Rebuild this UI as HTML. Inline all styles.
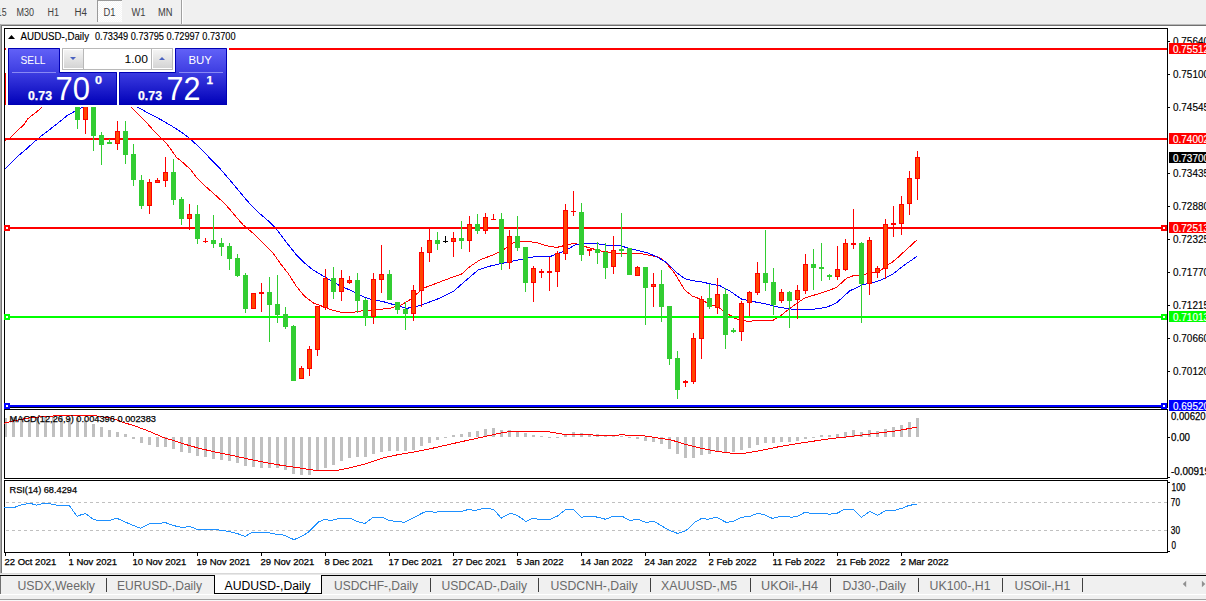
<!DOCTYPE html>
<html><head><meta charset="utf-8"><style>
html,body{margin:0;padding:0;width:1206px;height:601px;overflow:hidden;background:#fff;font-family:"Liberation Sans", sans-serif;}
svg{display:block;}
</style></head><body>
<svg width="1206" height="601" viewBox="0 0 1206 601" font-family='"Liberation Sans", sans-serif'><rect x="0" y="0" width="1206" height="601" fill="#ffffff"/>
<rect x="0" y="0" width="1206" height="24" fill="#f0f0f0"/>
<rect x="0" y="24" width="1206" height="1" fill="#b9b9b9"/>
<rect x="0" y="25" width="1206" height="1" fill="#707070"/>
<defs><pattern id="chk" width="2" height="2" patternUnits="userSpaceOnUse"><rect width="2" height="2" fill="#f6f6f6"/><rect width="1" height="1" fill="#ffffff"/><rect x="1" y="1" width="1" height="1" fill="#ffffff"/></pattern><linearGradient id="gsellT" x1="0" y1="0" x2="0" y2="1"><stop offset="0" stop-color="#5a5af5"/><stop offset="1" stop-color="#3a3ae0"/></linearGradient><linearGradient id="gsellB" x1="0" y1="0" x2="0" y2="1"><stop offset="0" stop-color="#3535dc"/><stop offset="1" stop-color="#0000b4"/></linearGradient><linearGradient id="gbtn" x1="0" y1="0" x2="0" y2="1"><stop offset="0" stop-color="#f4f4f4"/><stop offset="1" stop-color="#d4d4d4"/></linearGradient></defs>
<rect x="97" y="0" width="25" height="22" fill="url(#chk)"/>
<rect x="97" y="0" width="25" height="1" fill="#9a9a9a"/>
<rect x="97" y="0" width="1" height="22" fill="#9a9a9a"/>
<rect x="181" y="0" width="1" height="24" fill="#a0a0a0"/>
<rect x="182" y="0" width="1" height="24" fill="#ffffff"/>
<text x="-10.5" y="16" font-size="10" fill="#404040" textLength="17" lengthAdjust="spacingAndGlyphs" >M15</text>
<text x="16.5" y="16" font-size="10" fill="#404040" textLength="17.5" lengthAdjust="spacingAndGlyphs" >M30</text>
<text x="47.5" y="16" font-size="10" fill="#404040" textLength="11.5" lengthAdjust="spacingAndGlyphs" >H1</text>
<text x="74.5" y="16" font-size="10" fill="#404040" textLength="12.5" lengthAdjust="spacingAndGlyphs" >H4</text>
<text x="103.5" y="16" font-size="10" fill="#404040" textLength="12" lengthAdjust="spacingAndGlyphs" >D1</text>
<text x="131.5" y="16" font-size="10" fill="#404040" textLength="14" lengthAdjust="spacingAndGlyphs" >W1</text>
<text x="158" y="16" font-size="10" fill="#404040" textLength="14.5" lengthAdjust="spacingAndGlyphs" >MN</text>
<rect x="0" y="24" width="1" height="550" fill="#a8a8a8"/>
<rect x="1" y="25" width="1" height="549" fill="#747474"/>
<rect x="4" y="28" width="1164" height="1" fill="#000"/>
<rect x="4" y="407" width="1164" height="1" fill="#000"/>
<rect x="4" y="28" width="1" height="380" fill="#000"/>
<rect x="1167" y="28" width="1" height="380" fill="#000"/>
<rect x="4" y="409" width="1164" height="1" fill="#000"/>
<rect x="4" y="478" width="1164" height="1" fill="#000"/>
<rect x="4" y="409" width="1" height="70" fill="#000"/>
<rect x="1167" y="409" width="1" height="70" fill="#000"/>
<rect x="4" y="480" width="1164" height="1" fill="#000"/>
<rect x="4" y="552" width="1164" height="1" fill="#000"/>
<rect x="4" y="480" width="1" height="73" fill="#000"/>
<rect x="1167" y="480" width="1" height="73" fill="#000"/>
<g clip-path="url(#mainclip)">
<clipPath id="mainclip"><rect x="5" y="29" width="1162" height="378"/></clipPath>
<polyline points="4.0,141.3 10.0,138.0 17.3,130.6 24.0,124.6 28.0,118.6 32.0,115.3 36.6,112.0 42.0,106.9 44.0,104.0" fill="none" stroke="#ff0000" stroke-width="1" stroke-linejoin="round" shape-rendering="crispEdges"/>
<polyline points="131.2,107.0 138.2,114.0 144.9,120.8 152.3,129.1 159.8,136.6 166.5,143.3 176.5,157.4 180.0,160.0 185.0,164.5 191.0,170.0 196.0,177.0 202.0,183.0 209.0,189.5 217.0,196.5 224.0,203.0 230.0,209.5 233.2,213.5 243.1,224.9 253.1,233.2 264.8,244.9 273.1,253.2 281.4,264.9 288.0,273.2 296.6,286.6 304.9,296.6 313.2,302.9 323.2,306.6 331.5,309.9 341.5,312.4 353.1,312.4 363.1,310.7 374.8,309.9 389.7,308.3 401.4,304.9 409.7,299.9 421.3,290.0 423.3,288.2 436.6,283.2 449.9,278.2 461.6,274.0 469.9,266.6 479.9,259.9 493.2,254.9 503.2,249.9 513.3,243.0 525.0,241.3 536.6,242.5 546.6,245.8 556.6,247.5 566.6,245.0 574.9,243.3 586.5,247.0 599.8,250.8 616.5,253.3 629.8,254.1 639.8,253.3 649.8,255.3 659.7,257.5 666.4,263.3 674.7,273.3 684.7,289.9 693.0,296.6 696.0,297.3 699.0,298.7 704.1,301.4 706.8,302.5 712.3,305.4 715.2,305.7 719.3,307.8 722.8,310.7 728.0,314.4 731.0,315.6 735.0,318.5 739.0,319.7 744.3,320.3 746.6,321.2 761.6,320.7 773.2,320.2 781.6,314.9 789.9,308.3 798.2,302.4 804.9,297.9 814.8,294.9 826.5,291.3 836.5,287.5 846.5,278.3 853.1,275.8 864.0,274.4 873.0,272.4 880.0,271.0 888.0,264.4 891.9,262.4 897.9,257.4 916.9,240.0" fill="none" stroke="#ff0000" stroke-width="1" stroke-linejoin="round" shape-rendering="crispEdges"/>
<polyline points="4.0,169.9 17.3,156.6 26.0,149.3 38.0,138.6 50.0,129.3 58.6,122.6 66.6,116.0 74.6,111.3 83.9,106.7 88.0,104.0" fill="none" stroke="#0000ff" stroke-width="1" stroke-linejoin="round" shape-rendering="crispEdges"/>
<polyline points="137.4,107.0 149.9,114.1 159.8,119.1 171.5,125.8 183.1,133.3 191.4,140.0 201.4,149.1 209.8,158.2 219.7,168.2 229.7,179.9 238.2,190.0 246.5,200.0 256.5,210.8 268.1,220.8 276.4,229.1 286.4,242.4 296.4,254.9 304.7,263.2 313.0,269.9 319.9,274.1 329.8,280.0 339.8,285.8 349.8,290.0 363.1,296.6 373.1,299.9 383.1,301.6 394.7,304.9 406.4,308.3 413.0,307.4 421.3,304.9 436.6,299.5 453.2,291.5 466.6,279.9 478.2,269.9 491.5,265.7 503.2,263.2 516.6,260.3 533.3,257.0 549.9,256.6 563.2,251.6 576.5,244.2 593.2,243.3 608.2,245.3 619.8,245.8 633.1,249.2 646.4,252.5 656.4,256.6 666.4,262.5 676.4,272.4 684.7,278.6 693.0,280.8 699.7,281.6 720.0,285.8 728.3,290.0 741.6,299.1 753.3,301.6 766.6,304.1 779.9,307.4 796.5,309.9 808.2,309.9 826.5,307.4 836.5,302.9 849.8,290.8 863.1,284.6 876.4,281.6 882.0,279.7 893.0,273.9 903.9,265.4 916.9,256.4" fill="none" stroke="#0000ff" stroke-width="1" stroke-linejoin="round" shape-rendering="crispEdges"/>
</g>
<g shape-rendering="crispEdges">
<rect x="229" y="48" width="938" height="2" fill="#ff0000"/>
<rect x="5" y="138" width="1162" height="2" fill="#ff0000"/>
<rect x="5" y="227" width="1162" height="2" fill="#ff0000"/>
<rect x="5" y="316" width="1162" height="2" fill="#00ff00"/>
<rect x="5" y="405" width="1162" height="2" fill="#0000ff"/>
<rect x="4" y="225" width="6" height="6" fill="#ff0000"/>
<rect x="6" y="227" width="2" height="2" fill="#ffffff"/>
<rect x="1161" y="225" width="6" height="6" fill="#ff0000"/>
<rect x="1163" y="227" width="2" height="2" fill="#ffffff"/>
<rect x="4" y="314" width="6" height="6" fill="#00ff00"/>
<rect x="6" y="316" width="2" height="2" fill="#ffffff"/>
<rect x="1161" y="314" width="6" height="6" fill="#00ff00"/>
<rect x="1163" y="316" width="2" height="2" fill="#ffffff"/>
<rect x="4" y="403" width="6" height="6" fill="#0000ff"/>
<rect x="6" y="405" width="2" height="2" fill="#ffffff"/>
<rect x="1161" y="403" width="6" height="6" fill="#0000ff"/>
<rect x="1163" y="405" width="2" height="2" fill="#ffffff"/>
<rect x="5" y="48" width="1" height="2" fill="#ff0000"/>
<rect x="5" y="73" width="1" height="32" fill="#ff0000"/>
<rect x="77" y="104" width="1" height="25" fill="#32cd32"/>
<rect x="75" y="104" width="5" height="16" fill="#32cd32"/>
<rect x="76" y="105" width="3" height="14" fill="#32cd32"/>
<rect x="85" y="104" width="1" height="30" fill="#ff0000"/>
<rect x="83" y="104" width="5" height="16" fill="#ff0000"/>
<rect x="84" y="105" width="3" height="14" fill="#ff4500"/>
<rect x="93" y="104" width="1" height="47" fill="#32cd32"/>
<rect x="91" y="104" width="5" height="32" fill="#32cd32"/>
<rect x="92" y="105" width="3" height="30" fill="#32cd32"/>
<rect x="101" y="132" width="1" height="33" fill="#32cd32"/>
<rect x="99" y="135" width="5" height="10" fill="#32cd32"/>
<rect x="100" y="136" width="3" height="8" fill="#32cd32"/>
<rect x="109" y="139" width="1" height="5" fill="#32cd32"/>
<rect x="107" y="142" width="5" height="2" fill="#32cd32"/>
<rect x="117" y="121" width="1" height="29" fill="#ff0000"/>
<rect x="115" y="131" width="5" height="13" fill="#ff0000"/>
<rect x="116" y="132" width="3" height="11" fill="#ff4500"/>
<rect x="125" y="121" width="1" height="43" fill="#32cd32"/>
<rect x="123" y="131" width="5" height="24" fill="#32cd32"/>
<rect x="124" y="132" width="3" height="22" fill="#32cd32"/>
<rect x="133" y="144" width="1" height="42" fill="#32cd32"/>
<rect x="131" y="154" width="5" height="26" fill="#32cd32"/>
<rect x="132" y="155" width="3" height="24" fill="#32cd32"/>
<rect x="141" y="175" width="1" height="34" fill="#32cd32"/>
<rect x="139" y="180" width="5" height="26" fill="#32cd32"/>
<rect x="140" y="181" width="3" height="24" fill="#32cd32"/>
<rect x="149" y="179" width="1" height="35" fill="#ff0000"/>
<rect x="147" y="182" width="5" height="24" fill="#ff0000"/>
<rect x="148" y="183" width="3" height="22" fill="#ff4500"/>
<rect x="157" y="178" width="1" height="5" fill="#ff0000"/>
<rect x="155" y="180" width="5" height="3" fill="#ff0000"/>
<rect x="156" y="181" width="3" height="1" fill="#ff4500"/>
<rect x="165" y="157" width="1" height="30" fill="#ff0000"/>
<rect x="163" y="172" width="5" height="9" fill="#ff0000"/>
<rect x="164" y="173" width="3" height="7" fill="#ff4500"/>
<rect x="173" y="159" width="1" height="46" fill="#32cd32"/>
<rect x="171" y="172" width="5" height="28" fill="#32cd32"/>
<rect x="172" y="173" width="3" height="26" fill="#32cd32"/>
<rect x="181" y="197" width="1" height="28" fill="#32cd32"/>
<rect x="179" y="199" width="5" height="20" fill="#32cd32"/>
<rect x="180" y="200" width="3" height="18" fill="#32cd32"/>
<rect x="189" y="204" width="1" height="26" fill="#ff0000"/>
<rect x="187" y="214" width="5" height="5" fill="#ff0000"/>
<rect x="188" y="215" width="3" height="3" fill="#ff4500"/>
<rect x="197" y="205" width="1" height="39" fill="#32cd32"/>
<rect x="195" y="214" width="5" height="25" fill="#32cd32"/>
<rect x="196" y="215" width="3" height="23" fill="#32cd32"/>
<rect x="205" y="238" width="1" height="5" fill="#ff0000"/>
<rect x="203" y="241" width="5" height="1" fill="#ff0000"/>
<rect x="213" y="215" width="1" height="33" fill="#32cd32"/>
<rect x="211" y="240" width="5" height="4" fill="#32cd32"/>
<rect x="212" y="241" width="3" height="2" fill="#32cd32"/>
<rect x="221" y="238" width="1" height="18" fill="#32cd32"/>
<rect x="219" y="243" width="5" height="4" fill="#32cd32"/>
<rect x="220" y="244" width="3" height="2" fill="#32cd32"/>
<rect x="229" y="243" width="1" height="27" fill="#32cd32"/>
<rect x="227" y="246" width="5" height="13" fill="#32cd32"/>
<rect x="228" y="247" width="3" height="11" fill="#32cd32"/>
<rect x="237" y="254" width="1" height="23" fill="#32cd32"/>
<rect x="235" y="258" width="5" height="18" fill="#32cd32"/>
<rect x="236" y="259" width="3" height="16" fill="#32cd32"/>
<rect x="245" y="273" width="1" height="40" fill="#32cd32"/>
<rect x="243" y="275" width="5" height="34" fill="#32cd32"/>
<rect x="244" y="276" width="3" height="32" fill="#32cd32"/>
<rect x="253" y="293" width="1" height="16" fill="#ff0000"/>
<rect x="251" y="293" width="5" height="16" fill="#ff0000"/>
<rect x="252" y="294" width="3" height="14" fill="#ff4500"/>
<rect x="261" y="283" width="1" height="29" fill="#ff0000"/>
<rect x="259" y="292" width="5" height="2" fill="#ff0000"/>
<rect x="269" y="277" width="1" height="65" fill="#32cd32"/>
<rect x="267" y="292" width="5" height="13" fill="#32cd32"/>
<rect x="268" y="293" width="3" height="11" fill="#32cd32"/>
<rect x="277" y="275" width="1" height="48" fill="#32cd32"/>
<rect x="275" y="304" width="5" height="11" fill="#32cd32"/>
<rect x="276" y="305" width="3" height="9" fill="#32cd32"/>
<rect x="285" y="307" width="1" height="22" fill="#32cd32"/>
<rect x="283" y="314" width="5" height="13" fill="#32cd32"/>
<rect x="284" y="315" width="3" height="11" fill="#32cd32"/>
<rect x="293" y="325" width="1" height="56" fill="#32cd32"/>
<rect x="291" y="326" width="5" height="55" fill="#32cd32"/>
<rect x="292" y="327" width="3" height="53" fill="#32cd32"/>
<rect x="301" y="366" width="1" height="13" fill="#ff0000"/>
<rect x="299" y="368" width="5" height="11" fill="#ff0000"/>
<rect x="300" y="369" width="3" height="9" fill="#ff4500"/>
<rect x="309" y="346" width="1" height="30" fill="#ff0000"/>
<rect x="307" y="349" width="5" height="20" fill="#ff0000"/>
<rect x="308" y="350" width="3" height="18" fill="#ff4500"/>
<rect x="317" y="306" width="1" height="50" fill="#ff0000"/>
<rect x="315" y="306" width="5" height="44" fill="#ff0000"/>
<rect x="316" y="307" width="3" height="42" fill="#ff4500"/>
<rect x="325" y="269" width="1" height="41" fill="#ff0000"/>
<rect x="323" y="278" width="5" height="30" fill="#ff0000"/>
<rect x="324" y="279" width="3" height="28" fill="#ff4500"/>
<rect x="333" y="267" width="1" height="32" fill="#32cd32"/>
<rect x="331" y="278" width="5" height="14" fill="#32cd32"/>
<rect x="332" y="279" width="3" height="12" fill="#32cd32"/>
<rect x="341" y="270" width="1" height="31" fill="#ff0000"/>
<rect x="339" y="278" width="5" height="14" fill="#ff0000"/>
<rect x="340" y="279" width="3" height="12" fill="#ff4500"/>
<rect x="349" y="276" width="1" height="8" fill="#ff0000"/>
<rect x="347" y="280" width="5" height="3" fill="#ff0000"/>
<rect x="348" y="281" width="3" height="1" fill="#ff4500"/>
<rect x="357" y="273" width="1" height="40" fill="#32cd32"/>
<rect x="355" y="280" width="5" height="21" fill="#32cd32"/>
<rect x="356" y="281" width="3" height="19" fill="#32cd32"/>
<rect x="365" y="298" width="1" height="28" fill="#32cd32"/>
<rect x="363" y="300" width="5" height="17" fill="#32cd32"/>
<rect x="364" y="301" width="3" height="15" fill="#32cd32"/>
<rect x="373" y="273" width="1" height="51" fill="#ff0000"/>
<rect x="371" y="279" width="5" height="38" fill="#ff0000"/>
<rect x="372" y="280" width="3" height="36" fill="#ff4500"/>
<rect x="381" y="245" width="1" height="48" fill="#ff0000"/>
<rect x="379" y="274" width="5" height="6" fill="#ff0000"/>
<rect x="380" y="275" width="3" height="4" fill="#ff4500"/>
<rect x="389" y="270" width="1" height="30" fill="#32cd32"/>
<rect x="387" y="274" width="5" height="26" fill="#32cd32"/>
<rect x="388" y="275" width="3" height="24" fill="#32cd32"/>
<rect x="397" y="302" width="1" height="12" fill="#32cd32"/>
<rect x="395" y="302" width="5" height="8" fill="#32cd32"/>
<rect x="396" y="303" width="3" height="6" fill="#32cd32"/>
<rect x="405" y="302" width="1" height="28" fill="#32cd32"/>
<rect x="403" y="309" width="5" height="5" fill="#32cd32"/>
<rect x="404" y="310" width="3" height="3" fill="#32cd32"/>
<rect x="413" y="285" width="1" height="36" fill="#ff0000"/>
<rect x="411" y="290" width="5" height="24" fill="#ff0000"/>
<rect x="412" y="291" width="3" height="22" fill="#ff4500"/>
<rect x="421" y="247" width="1" height="60" fill="#ff0000"/>
<rect x="419" y="252" width="5" height="39" fill="#ff0000"/>
<rect x="420" y="253" width="3" height="37" fill="#ff4500"/>
<rect x="429" y="228" width="1" height="34" fill="#ff0000"/>
<rect x="427" y="240" width="5" height="13" fill="#ff0000"/>
<rect x="428" y="241" width="3" height="11" fill="#ff4500"/>
<rect x="437" y="232" width="1" height="18" fill="#32cd32"/>
<rect x="435" y="240" width="5" height="4" fill="#32cd32"/>
<rect x="436" y="241" width="3" height="2" fill="#32cd32"/>
<rect x="445" y="236" width="1" height="7" fill="#000000"/>
<rect x="443" y="241" width="5" height="1" fill="#000000"/>
<rect x="453" y="232" width="1" height="25" fill="#ff0000"/>
<rect x="451" y="238" width="5" height="4" fill="#ff0000"/>
<rect x="452" y="239" width="3" height="2" fill="#ff4500"/>
<rect x="461" y="221" width="1" height="28" fill="#32cd32"/>
<rect x="459" y="238" width="5" height="3" fill="#32cd32"/>
<rect x="460" y="239" width="3" height="1" fill="#32cd32"/>
<rect x="469" y="216" width="1" height="36" fill="#ff0000"/>
<rect x="467" y="224" width="5" height="17" fill="#ff0000"/>
<rect x="468" y="225" width="3" height="15" fill="#ff4500"/>
<rect x="477" y="214" width="1" height="20" fill="#32cd32"/>
<rect x="475" y="224" width="5" height="7" fill="#32cd32"/>
<rect x="476" y="225" width="3" height="5" fill="#32cd32"/>
<rect x="485" y="213" width="1" height="21" fill="#ff0000"/>
<rect x="483" y="217" width="5" height="14" fill="#ff0000"/>
<rect x="484" y="218" width="3" height="12" fill="#ff4500"/>
<rect x="493" y="214" width="1" height="6" fill="#ff0000"/>
<rect x="491" y="219" width="5" height="1" fill="#ff0000"/>
<rect x="501" y="213" width="1" height="57" fill="#32cd32"/>
<rect x="499" y="219" width="5" height="44" fill="#32cd32"/>
<rect x="500" y="220" width="3" height="42" fill="#32cd32"/>
<rect x="509" y="230" width="1" height="39" fill="#ff0000"/>
<rect x="507" y="236" width="5" height="27" fill="#ff0000"/>
<rect x="508" y="237" width="3" height="25" fill="#ff4500"/>
<rect x="517" y="216" width="1" height="35" fill="#32cd32"/>
<rect x="515" y="236" width="5" height="12" fill="#32cd32"/>
<rect x="516" y="237" width="3" height="10" fill="#32cd32"/>
<rect x="525" y="247" width="1" height="45" fill="#32cd32"/>
<rect x="523" y="247" width="5" height="36" fill="#32cd32"/>
<rect x="524" y="248" width="3" height="34" fill="#32cd32"/>
<rect x="533" y="266" width="1" height="36" fill="#ff0000"/>
<rect x="531" y="268" width="5" height="15" fill="#ff0000"/>
<rect x="532" y="269" width="3" height="13" fill="#ff4500"/>
<rect x="541" y="269" width="1" height="9" fill="#ff0000"/>
<rect x="539" y="271" width="5" height="2" fill="#ff0000"/>
<rect x="549" y="257" width="1" height="34" fill="#ff0000"/>
<rect x="547" y="271" width="5" height="2" fill="#ff0000"/>
<rect x="557" y="251" width="1" height="36" fill="#ff0000"/>
<rect x="555" y="253" width="5" height="19" fill="#ff0000"/>
<rect x="556" y="254" width="3" height="17" fill="#ff4500"/>
<rect x="565" y="204" width="1" height="56" fill="#ff0000"/>
<rect x="563" y="210" width="5" height="44" fill="#ff0000"/>
<rect x="564" y="211" width="3" height="42" fill="#ff4500"/>
<rect x="573" y="191" width="1" height="25" fill="#ff0000"/>
<rect x="571" y="211" width="5" height="1" fill="#ff0000"/>
<rect x="581" y="203" width="1" height="58" fill="#32cd32"/>
<rect x="579" y="212" width="5" height="43" fill="#32cd32"/>
<rect x="580" y="213" width="3" height="41" fill="#32cd32"/>
<rect x="589" y="249" width="1" height="7" fill="#ff0000"/>
<rect x="587" y="249" width="5" height="2" fill="#ff0000"/>
<rect x="597" y="242" width="1" height="22" fill="#32cd32"/>
<rect x="595" y="249" width="5" height="4" fill="#32cd32"/>
<rect x="596" y="250" width="3" height="2" fill="#32cd32"/>
<rect x="605" y="243" width="1" height="36" fill="#32cd32"/>
<rect x="603" y="252" width="5" height="16" fill="#32cd32"/>
<rect x="604" y="253" width="3" height="14" fill="#32cd32"/>
<rect x="613" y="236" width="1" height="38" fill="#ff0000"/>
<rect x="611" y="250" width="5" height="17" fill="#ff0000"/>
<rect x="612" y="251" width="3" height="15" fill="#ff4500"/>
<rect x="621" y="213" width="1" height="44" fill="#32cd32"/>
<rect x="619" y="249" width="5" height="2" fill="#32cd32"/>
<rect x="629" y="248" width="1" height="27" fill="#32cd32"/>
<rect x="627" y="248" width="5" height="27" fill="#32cd32"/>
<rect x="628" y="249" width="3" height="25" fill="#32cd32"/>
<rect x="637" y="266" width="1" height="10" fill="#ff0000"/>
<rect x="635" y="267" width="5" height="9" fill="#ff0000"/>
<rect x="636" y="268" width="3" height="7" fill="#ff4500"/>
<rect x="645" y="267" width="1" height="58" fill="#32cd32"/>
<rect x="643" y="267" width="5" height="21" fill="#32cd32"/>
<rect x="644" y="268" width="3" height="19" fill="#32cd32"/>
<rect x="653" y="273" width="1" height="34" fill="#ff0000"/>
<rect x="651" y="284" width="5" height="3" fill="#ff0000"/>
<rect x="652" y="285" width="3" height="1" fill="#ff4500"/>
<rect x="661" y="270" width="1" height="52" fill="#32cd32"/>
<rect x="659" y="284" width="5" height="23" fill="#32cd32"/>
<rect x="660" y="285" width="3" height="21" fill="#32cd32"/>
<rect x="669" y="306" width="1" height="59" fill="#32cd32"/>
<rect x="667" y="306" width="5" height="53" fill="#32cd32"/>
<rect x="668" y="307" width="3" height="51" fill="#32cd32"/>
<rect x="677" y="351" width="1" height="48" fill="#32cd32"/>
<rect x="675" y="358" width="5" height="32" fill="#32cd32"/>
<rect x="676" y="359" width="3" height="30" fill="#32cd32"/>
<rect x="685" y="380" width="1" height="7" fill="#ff0000"/>
<rect x="683" y="381" width="5" height="2" fill="#ff0000"/>
<rect x="693" y="333" width="1" height="51" fill="#ff0000"/>
<rect x="691" y="338" width="5" height="44" fill="#ff0000"/>
<rect x="692" y="339" width="3" height="42" fill="#ff4500"/>
<rect x="701" y="296" width="1" height="63" fill="#ff0000"/>
<rect x="699" y="299" width="5" height="40" fill="#ff0000"/>
<rect x="700" y="300" width="3" height="38" fill="#ff4500"/>
<rect x="709" y="284" width="1" height="25" fill="#32cd32"/>
<rect x="707" y="298" width="5" height="9" fill="#32cd32"/>
<rect x="708" y="299" width="3" height="7" fill="#32cd32"/>
<rect x="717" y="278" width="1" height="36" fill="#ff0000"/>
<rect x="715" y="294" width="5" height="14" fill="#ff0000"/>
<rect x="716" y="295" width="3" height="12" fill="#ff4500"/>
<rect x="725" y="288" width="1" height="61" fill="#32cd32"/>
<rect x="723" y="294" width="5" height="41" fill="#32cd32"/>
<rect x="724" y="295" width="3" height="39" fill="#32cd32"/>
<rect x="733" y="328" width="1" height="5" fill="#32cd32"/>
<rect x="731" y="330" width="5" height="2" fill="#32cd32"/>
<rect x="741" y="301" width="1" height="40" fill="#ff0000"/>
<rect x="739" y="303" width="5" height="29" fill="#ff0000"/>
<rect x="740" y="304" width="3" height="27" fill="#ff4500"/>
<rect x="749" y="291" width="1" height="25" fill="#ff0000"/>
<rect x="747" y="292" width="5" height="11" fill="#ff0000"/>
<rect x="748" y="293" width="3" height="9" fill="#ff4500"/>
<rect x="757" y="262" width="1" height="33" fill="#ff0000"/>
<rect x="755" y="273" width="5" height="20" fill="#ff0000"/>
<rect x="756" y="274" width="3" height="18" fill="#ff4500"/>
<rect x="765" y="230" width="1" height="61" fill="#32cd32"/>
<rect x="763" y="273" width="5" height="10" fill="#32cd32"/>
<rect x="764" y="274" width="3" height="8" fill="#32cd32"/>
<rect x="773" y="268" width="1" height="47" fill="#32cd32"/>
<rect x="771" y="282" width="5" height="23" fill="#32cd32"/>
<rect x="772" y="283" width="3" height="21" fill="#32cd32"/>
<rect x="781" y="289" width="1" height="14" fill="#ff0000"/>
<rect x="779" y="292" width="5" height="9" fill="#ff0000"/>
<rect x="780" y="293" width="3" height="7" fill="#ff4500"/>
<rect x="789" y="291" width="1" height="37" fill="#32cd32"/>
<rect x="787" y="292" width="5" height="9" fill="#32cd32"/>
<rect x="788" y="293" width="3" height="7" fill="#32cd32"/>
<rect x="797" y="285" width="1" height="34" fill="#ff0000"/>
<rect x="795" y="290" width="5" height="10" fill="#ff0000"/>
<rect x="796" y="291" width="3" height="8" fill="#ff4500"/>
<rect x="805" y="254" width="1" height="40" fill="#ff0000"/>
<rect x="803" y="264" width="5" height="27" fill="#ff0000"/>
<rect x="804" y="265" width="3" height="25" fill="#ff4500"/>
<rect x="813" y="249" width="1" height="41" fill="#32cd32"/>
<rect x="811" y="264" width="5" height="4" fill="#32cd32"/>
<rect x="812" y="265" width="3" height="2" fill="#32cd32"/>
<rect x="821" y="243" width="1" height="38" fill="#32cd32"/>
<rect x="819" y="267" width="5" height="2" fill="#32cd32"/>
<rect x="829" y="274" width="1" height="6" fill="#32cd32"/>
<rect x="827" y="275" width="5" height="2" fill="#32cd32"/>
<rect x="837" y="246" width="1" height="34" fill="#ff0000"/>
<rect x="835" y="269" width="5" height="8" fill="#ff0000"/>
<rect x="836" y="270" width="3" height="6" fill="#ff4500"/>
<rect x="845" y="239" width="1" height="32" fill="#ff0000"/>
<rect x="843" y="243" width="5" height="27" fill="#ff0000"/>
<rect x="844" y="244" width="3" height="25" fill="#ff4500"/>
<rect x="853" y="209" width="1" height="40" fill="#ff0000"/>
<rect x="851" y="243" width="5" height="2" fill="#ff0000"/>
<rect x="861" y="242" width="1" height="81" fill="#32cd32"/>
<rect x="859" y="243" width="5" height="41" fill="#32cd32"/>
<rect x="860" y="244" width="3" height="39" fill="#32cd32"/>
<rect x="869" y="237" width="1" height="58" fill="#ff0000"/>
<rect x="867" y="240" width="5" height="44" fill="#ff0000"/>
<rect x="868" y="241" width="3" height="42" fill="#ff4500"/>
<rect x="877" y="266" width="1" height="12" fill="#ff0000"/>
<rect x="875" y="268" width="5" height="5" fill="#ff0000"/>
<rect x="876" y="269" width="3" height="3" fill="#ff4500"/>
<rect x="885" y="219" width="1" height="60" fill="#ff0000"/>
<rect x="883" y="224" width="5" height="45" fill="#ff0000"/>
<rect x="884" y="225" width="3" height="43" fill="#ff4500"/>
<rect x="893" y="206" width="1" height="31" fill="#ff0000"/>
<rect x="891" y="223" width="5" height="2" fill="#ff0000"/>
<rect x="901" y="196" width="1" height="39" fill="#ff0000"/>
<rect x="899" y="204" width="5" height="20" fill="#ff0000"/>
<rect x="900" y="205" width="3" height="18" fill="#ff4500"/>
<rect x="909" y="171" width="1" height="44" fill="#ff0000"/>
<rect x="907" y="178" width="5" height="26" fill="#ff0000"/>
<rect x="908" y="179" width="3" height="24" fill="#ff4500"/>
<rect x="917" y="151" width="1" height="49" fill="#ff0000"/>
<rect x="915" y="157" width="5" height="22" fill="#ff0000"/>
<rect x="916" y="158" width="3" height="20" fill="#ff4500"/>
</g>
<rect x="6" y="46" width="223" height="61" fill="#ffffff"/>
<linearGradient id="gpanel" gradientUnits="userSpaceOnUse" x1="0" y1="48" x2="0" y2="105"><stop offset="0" stop-color="#6262f8"/><stop offset="0.42" stop-color="#3e3ee2"/><stop offset="1" stop-color="#0000b8"/></linearGradient>
<path d="M8,48 H60 V72 H117 V105 H8 Z" fill="url(#gpanel)" stroke="none"/>
<path d="M8.5,48.5 H59.5 V72.5 H116.5 V104.5 H8.5 Z" fill="none" stroke="#0000b4" stroke-width="1"/>
<path d="M175,48 H227 V105 H119 V72 H175 Z" fill="url(#gpanel)" stroke="none"/>
<path d="M175.5,48.5 H226.5 V104.5 H119.5 V72.5 H175.5 Z" fill="none" stroke="#0000b4" stroke-width="1"/>
<rect x="12" y="72" width="44" height="1" fill="#8888f4"/>
<rect x="179" y="72" width="44" height="1" fill="#8888f4"/>
<rect x="62" y="48" width="111" height="22" fill="#b8b8b8"/>
<rect x="63" y="49" width="109" height="20" fill="#ffffff"/>
<linearGradient id="gbtn" x1="0" y1="0" x2="0" y2="1"><stop offset="0" stop-color="#f2f2f2"/><stop offset="0.45" stop-color="#ebebeb"/><stop offset="0.5" stop-color="#dcdcdc"/><stop offset="1" stop-color="#d2d2d2"/></linearGradient>
<rect x="64" y="50" width="19" height="18" fill="url(#gbtn)"/>
<rect x="83" y="49" width="1" height="20" fill="#b8b8b8"/>
<rect x="153" y="50" width="19" height="18" fill="url(#gbtn)"/>
<rect x="151" y="49" width="1" height="20" fill="#b8b8b8"/>
<path d="M70,57 L76,57 L73,60 Z" fill="#4a62c0"/>
<path d="M159,60 L165,60 L162,57 Z" fill="#4a62c0"/>
<text x="124.5" y="63" font-size="11" fill="#000" textLength="23.5" lengthAdjust="spacingAndGlyphs" >1.00</text>
<text x="20.5" y="64" font-size="11" fill="#fff" textLength="25" lengthAdjust="spacingAndGlyphs" >SELL</text>
<text x="188.5" y="64" font-size="11" fill="#fff" textLength="23.5" lengthAdjust="spacingAndGlyphs" >BUY</text>
<text x="28" y="100" font-size="12" fill="#fff" stroke="#fff" stroke-width="0.25" textLength="24" lengthAdjust="spacingAndGlyphs" font-weight="bold" >0.73</text>
<text x="138" y="100" font-size="12" fill="#fff" stroke="#fff" stroke-width="0.25" textLength="24" lengthAdjust="spacingAndGlyphs" font-weight="bold" >0.73</text>
<text x="55.5" y="100" font-size="33" fill="#fff" textLength="34.5" lengthAdjust="spacingAndGlyphs" >70</text>
<text x="166.5" y="100" font-size="33" fill="#fff" textLength="34" lengthAdjust="spacingAndGlyphs" >72</text>
<text x="95" y="84" font-size="10" fill="#fff" stroke="#fff" stroke-width="0.25" textLength="7" lengthAdjust="spacingAndGlyphs" font-weight="bold" >0</text>
<text x="206.5" y="84" font-size="10" fill="#fff" stroke="#fff" stroke-width="0.25" textLength="6.5" lengthAdjust="spacingAndGlyphs" font-weight="bold" >1</text>
<path d="M8,39 L15,39 L11.5,35 Z" fill="#000"/>
<text x="20.5" y="40" font-size="10" fill="#000" stroke="#000" stroke-width="0.15" textLength="68.5" lengthAdjust="spacingAndGlyphs" >AUDUSD-,Daily</text>
<text x="95" y="40" font-size="10.5" fill="#000" stroke="#000" stroke-width="0.15" textLength="140.5" lengthAdjust="spacingAndGlyphs" >0.73349 0.73795 0.72997 0.73700</text>
<rect x="1168" y="41" width="2" height="1" fill="#000"/>
<text x="1173" y="45" font-size="10.5" fill="#000" stroke="#000" stroke-width="0.15" textLength="36" lengthAdjust="spacingAndGlyphs" >0.75640</text>
<rect x="1168" y="74" width="2" height="1" fill="#000"/>
<text x="1173" y="78" font-size="10.5" fill="#000" stroke="#000" stroke-width="0.15" textLength="36" lengthAdjust="spacingAndGlyphs" >0.75100</text>
<rect x="1168" y="107" width="2" height="1" fill="#000"/>
<text x="1173" y="111" font-size="10.5" fill="#000" stroke="#000" stroke-width="0.15" textLength="36" lengthAdjust="spacingAndGlyphs" >0.74545</text>
<rect x="1168" y="173" width="2" height="1" fill="#000"/>
<text x="1173" y="177" font-size="10.5" fill="#000" stroke="#000" stroke-width="0.15" textLength="36" lengthAdjust="spacingAndGlyphs" >0.73435</text>
<rect x="1168" y="206" width="2" height="1" fill="#000"/>
<text x="1173" y="210" font-size="10.5" fill="#000" stroke="#000" stroke-width="0.15" textLength="36" lengthAdjust="spacingAndGlyphs" >0.72880</text>
<rect x="1168" y="239" width="2" height="1" fill="#000"/>
<text x="1173" y="243" font-size="10.5" fill="#000" stroke="#000" stroke-width="0.15" textLength="36" lengthAdjust="spacingAndGlyphs" >0.72325</text>
<rect x="1168" y="272" width="2" height="1" fill="#000"/>
<text x="1173" y="276" font-size="10.5" fill="#000" stroke="#000" stroke-width="0.15" textLength="36" lengthAdjust="spacingAndGlyphs" >0.71770</text>
<rect x="1168" y="305" width="2" height="1" fill="#000"/>
<text x="1173" y="309" font-size="10.5" fill="#000" stroke="#000" stroke-width="0.15" textLength="36" lengthAdjust="spacingAndGlyphs" >0.71215</text>
<rect x="1168" y="338" width="2" height="1" fill="#000"/>
<text x="1173" y="342" font-size="10.5" fill="#000" stroke="#000" stroke-width="0.15" textLength="36" lengthAdjust="spacingAndGlyphs" >0.70660</text>
<rect x="1168" y="371" width="2" height="1" fill="#000"/>
<text x="1173" y="375" font-size="10.5" fill="#000" stroke="#000" stroke-width="0.15" textLength="36" lengthAdjust="spacingAndGlyphs" >0.70120</text>
<rect x="1169" y="43" width="37" height="11" fill="#ff0000"/>
<text x="1173" y="52.5" font-size="10.5" fill="#fff" stroke="#fff" stroke-width="0.15" textLength="36" lengthAdjust="spacingAndGlyphs" >0.75512</text>
<rect x="1169" y="133" width="37" height="11" fill="#ff0000"/>
<text x="1173" y="142.5" font-size="10.5" fill="#fff" stroke="#fff" stroke-width="0.15" textLength="36" lengthAdjust="spacingAndGlyphs" >0.74002</text>
<rect x="1169" y="152" width="37" height="11" fill="#000000"/>
<text x="1173" y="161.5" font-size="10.5" fill="#fff" stroke="#fff" stroke-width="0.15" textLength="36" lengthAdjust="spacingAndGlyphs" >0.73700</text>
<rect x="1169" y="222" width="37" height="11" fill="#ff0000"/>
<text x="1173" y="231.5" font-size="10.5" fill="#fff" stroke="#fff" stroke-width="0.15" textLength="36" lengthAdjust="spacingAndGlyphs" >0.72513</text>
<rect x="1169" y="311" width="37" height="11" fill="#00ff00"/>
<text x="1173" y="320.5" font-size="10.5" fill="#fff" stroke="#fff" stroke-width="0.15" textLength="36" lengthAdjust="spacingAndGlyphs" >0.71013</text>
<rect x="1169" y="400" width="37" height="11" fill="#0000ff"/>
<text x="1173" y="409.5" font-size="10.5" fill="#fff" stroke="#fff" stroke-width="0.15" textLength="36" lengthAdjust="spacingAndGlyphs" >0.69520</text>
<g shape-rendering="crispEdges">
<rect x="5" y="418" width="2" height="19" fill="#c0c0c0"/>
<rect x="12" y="417" width="3" height="20" fill="#c0c0c0"/>
<rect x="20" y="417" width="3" height="20" fill="#c0c0c0"/>
<rect x="28" y="417" width="3" height="20" fill="#c0c0c0"/>
<rect x="36" y="417" width="3" height="20" fill="#c0c0c0"/>
<rect x="44" y="416" width="3" height="21" fill="#c0c0c0"/>
<rect x="52" y="417" width="3" height="20" fill="#c0c0c0"/>
<rect x="60" y="418" width="3" height="19" fill="#c0c0c0"/>
<rect x="68" y="418" width="3" height="19" fill="#c0c0c0"/>
<rect x="76" y="418" width="3" height="19" fill="#c0c0c0"/>
<rect x="84" y="420" width="3" height="17" fill="#c0c0c0"/>
<rect x="92" y="424" width="3" height="13" fill="#c0c0c0"/>
<rect x="100" y="427" width="3" height="10" fill="#c0c0c0"/>
<rect x="108" y="430" width="3" height="7" fill="#c0c0c0"/>
<rect x="116" y="432" width="3" height="5" fill="#c0c0c0"/>
<rect x="124" y="434" width="3" height="3" fill="#c0c0c0"/>
<rect x="132" y="437" width="3" height="2" fill="#c0c0c0"/>
<rect x="140" y="437" width="3" height="6" fill="#c0c0c0"/>
<rect x="148" y="437" width="3" height="8" fill="#c0c0c0"/>
<rect x="156" y="437" width="3" height="10" fill="#c0c0c0"/>
<rect x="164" y="437" width="3" height="10" fill="#c0c0c0"/>
<rect x="172" y="437" width="3" height="12" fill="#c0c0c0"/>
<rect x="180" y="437" width="3" height="15" fill="#c0c0c0"/>
<rect x="188" y="437" width="3" height="16" fill="#c0c0c0"/>
<rect x="196" y="437" width="3" height="19" fill="#c0c0c0"/>
<rect x="204" y="437" width="3" height="20" fill="#c0c0c0"/>
<rect x="212" y="437" width="3" height="22" fill="#c0c0c0"/>
<rect x="220" y="437" width="3" height="23" fill="#c0c0c0"/>
<rect x="228" y="437" width="3" height="24" fill="#c0c0c0"/>
<rect x="236" y="437" width="3" height="26" fill="#c0c0c0"/>
<rect x="244" y="437" width="3" height="29" fill="#c0c0c0"/>
<rect x="252" y="437" width="3" height="30" fill="#c0c0c0"/>
<rect x="260" y="437" width="3" height="31" fill="#c0c0c0"/>
<rect x="268" y="437" width="3" height="31" fill="#c0c0c0"/>
<rect x="276" y="437" width="3" height="31" fill="#c0c0c0"/>
<rect x="284" y="437" width="3" height="33" fill="#c0c0c0"/>
<rect x="292" y="437" width="3" height="37" fill="#c0c0c0"/>
<rect x="300" y="437" width="3" height="38" fill="#c0c0c0"/>
<rect x="308" y="437" width="3" height="38" fill="#c0c0c0"/>
<rect x="316" y="437" width="3" height="34" fill="#c0c0c0"/>
<rect x="324" y="437" width="3" height="31" fill="#c0c0c0"/>
<rect x="332" y="437" width="3" height="28" fill="#c0c0c0"/>
<rect x="340" y="437" width="3" height="24" fill="#c0c0c0"/>
<rect x="348" y="437" width="3" height="21" fill="#c0c0c0"/>
<rect x="356" y="437" width="3" height="20" fill="#c0c0c0"/>
<rect x="364" y="437" width="3" height="20" fill="#c0c0c0"/>
<rect x="372" y="437" width="3" height="17" fill="#c0c0c0"/>
<rect x="380" y="437" width="3" height="15" fill="#c0c0c0"/>
<rect x="388" y="437" width="3" height="14" fill="#c0c0c0"/>
<rect x="396" y="437" width="3" height="14" fill="#c0c0c0"/>
<rect x="404" y="437" width="3" height="14" fill="#c0c0c0"/>
<rect x="412" y="437" width="3" height="13" fill="#c0c0c0"/>
<rect x="420" y="437" width="3" height="9" fill="#c0c0c0"/>
<rect x="428" y="437" width="3" height="6" fill="#c0c0c0"/>
<rect x="436" y="437" width="3" height="3" fill="#c0c0c0"/>
<rect x="444" y="437" width="3" height="1" fill="#c0c0c0"/>
<rect x="452" y="435" width="3" height="2" fill="#c0c0c0"/>
<rect x="460" y="434" width="3" height="3" fill="#c0c0c0"/>
<rect x="468" y="432" width="3" height="5" fill="#c0c0c0"/>
<rect x="476" y="431" width="3" height="6" fill="#c0c0c0"/>
<rect x="484" y="429" width="3" height="8" fill="#c0c0c0"/>
<rect x="492" y="428" width="3" height="9" fill="#c0c0c0"/>
<rect x="500" y="430" width="3" height="7" fill="#c0c0c0"/>
<rect x="508" y="430" width="3" height="7" fill="#c0c0c0"/>
<rect x="516" y="431" width="3" height="6" fill="#c0c0c0"/>
<rect x="524" y="433" width="3" height="4" fill="#c0c0c0"/>
<rect x="532" y="435" width="3" height="2" fill="#c0c0c0"/>
<rect x="540" y="436" width="3" height="1" fill="#c0c0c0"/>
<rect x="548" y="437" width="3" height="1" fill="#c0c0c0"/>
<rect x="556" y="437" width="3" height="1" fill="#c0c0c0"/>
<rect x="564" y="434" width="3" height="3" fill="#c0c0c0"/>
<rect x="572" y="432" width="3" height="5" fill="#c0c0c0"/>
<rect x="580" y="433" width="3" height="4" fill="#c0c0c0"/>
<rect x="588" y="434" width="3" height="3" fill="#c0c0c0"/>
<rect x="596" y="434" width="3" height="3" fill="#c0c0c0"/>
<rect x="604" y="435" width="3" height="2" fill="#c0c0c0"/>
<rect x="612" y="435" width="3" height="2" fill="#c0c0c0"/>
<rect x="620" y="436" width="3" height="1" fill="#c0c0c0"/>
<rect x="628" y="437" width="3" height="1" fill="#c0c0c0"/>
<rect x="636" y="437" width="3" height="2" fill="#c0c0c0"/>
<rect x="644" y="437" width="3" height="4" fill="#c0c0c0"/>
<rect x="652" y="437" width="3" height="5" fill="#c0c0c0"/>
<rect x="660" y="437" width="3" height="7" fill="#c0c0c0"/>
<rect x="668" y="437" width="3" height="12" fill="#c0c0c0"/>
<rect x="676" y="437" width="3" height="17" fill="#c0c0c0"/>
<rect x="684" y="437" width="3" height="21" fill="#c0c0c0"/>
<rect x="692" y="437" width="3" height="21" fill="#c0c0c0"/>
<rect x="700" y="437" width="3" height="18" fill="#c0c0c0"/>
<rect x="708" y="437" width="3" height="17" fill="#c0c0c0"/>
<rect x="716" y="437" width="3" height="14" fill="#c0c0c0"/>
<rect x="724" y="437" width="3" height="15" fill="#c0c0c0"/>
<rect x="732" y="437" width="3" height="15" fill="#c0c0c0"/>
<rect x="740" y="437" width="3" height="13" fill="#c0c0c0"/>
<rect x="748" y="437" width="3" height="11" fill="#c0c0c0"/>
<rect x="756" y="437" width="3" height="8" fill="#c0c0c0"/>
<rect x="764" y="437" width="3" height="6" fill="#c0c0c0"/>
<rect x="772" y="437" width="3" height="6" fill="#c0c0c0"/>
<rect x="780" y="437" width="3" height="5" fill="#c0c0c0"/>
<rect x="788" y="437" width="3" height="5" fill="#c0c0c0"/>
<rect x="796" y="437" width="3" height="4" fill="#c0c0c0"/>
<rect x="804" y="437" width="3" height="2" fill="#c0c0c0"/>
<rect x="812" y="437" width="3" height="1" fill="#c0c0c0"/>
<rect x="820" y="435" width="3" height="2" fill="#c0c0c0"/>
<rect x="828" y="435" width="3" height="2" fill="#c0c0c0"/>
<rect x="836" y="434" width="3" height="3" fill="#c0c0c0"/>
<rect x="844" y="432" width="3" height="5" fill="#c0c0c0"/>
<rect x="852" y="430" width="3" height="7" fill="#c0c0c0"/>
<rect x="860" y="432" width="3" height="5" fill="#c0c0c0"/>
<rect x="868" y="430" width="3" height="7" fill="#c0c0c0"/>
<rect x="876" y="431" width="3" height="6" fill="#c0c0c0"/>
<rect x="884" y="429" width="3" height="8" fill="#c0c0c0"/>
<rect x="892" y="427" width="3" height="10" fill="#c0c0c0"/>
<rect x="900" y="425" width="3" height="12" fill="#c0c0c0"/>
<rect x="908" y="422" width="3" height="15" fill="#c0c0c0"/>
<rect x="916" y="418" width="3" height="19" fill="#c0c0c0"/>
</g>
<polyline points="4.0,423.3 14.0,420.8 28.9,418.0 45.5,416.3 70.3,415.3 95.2,415.8 111.8,418.3 123.4,422.4 136.7,426.6 149.9,431.6 163.2,437.4 176.5,441.5 189.7,445.7 200.0,448.5 216.6,452.3 233.2,455.6 249.8,459.4 266.3,462.7 282.9,465.6 299.5,468.0 316.1,470.5 336.0,470.5 349.3,468.0 365.8,463.9 382.4,458.1 396.0,455.1 412.6,452.3 429.2,449.0 445.8,445.2 462.3,441.5 478.9,437.9 492.2,434.9 503.8,432.4 513.7,431.2 545.3,431.2 561.8,434.0 578.4,434.5 598.0,435.2 616.2,435.7 621.2,434.5 626.1,435.2 642.7,435.7 654.3,437.4 670.9,439.9 684.2,444.0 700.8,448.1 717.4,451.5 730.6,453.1 743.9,453.4 757.2,451.1 770.4,448.5 780.0,446.5 796.6,443.7 813.2,441.2 829.8,438.7 846.3,437.0 862.9,434.9 879.5,432.9 896.1,430.9 917.0,427.1" fill="none" stroke="#ff0000" stroke-width="1" stroke-linejoin="round" shape-rendering="crispEdges"/>
<text x="9.5" y="422" font-size="9.5" fill="#000" stroke="#000" stroke-width="0.25" textLength="146.5" lengthAdjust="spacingAndGlyphs" >MACD(12,26,9) 0.004396 0.002383</text>
<text x="1171" y="420" font-size="10" fill="#000" stroke="#000" stroke-width="0.25" textLength="40" lengthAdjust="spacingAndGlyphs" >0.006201</text>
<rect x="1168" y="437" width="2" height="1" fill="#000"/>
<text x="1171" y="441" font-size="10" fill="#000" stroke="#000" stroke-width="0.25" textLength="19" lengthAdjust="spacingAndGlyphs" >0.00</text>
<text x="1171" y="475" font-size="10" fill="#000" stroke="#000" stroke-width="0.25" textLength="39" lengthAdjust="spacingAndGlyphs" >-0.00919</text>
<rect x="1168" y="477" width="2" height="1" fill="#000"/>
<line x1="5" y1="502.5" x2="1167" y2="502.5" stroke="#c0c0c0" stroke-width="1" stroke-dasharray="3,3" stroke-dashoffset="-1" shape-rendering="crispEdges"/>
<line x1="5" y1="530.5" x2="1167" y2="530.5" stroke="#c0c0c0" stroke-width="1" stroke-dasharray="3,3" stroke-dashoffset="-1" shape-rendering="crispEdges"/>
<polyline points="4.0,507.5 14.2,507.5 19.0,505.7 23.8,504.3 30.3,503.4 36.3,505.1 43.5,503.4 49.5,503.4 51.9,504.3 57.9,505.4 69.3,505.4 77.0,516.3 81.8,514.5 85.4,513.5 93.2,519.3 98.6,520.5 110.0,520.5 116.6,518.2 126.5,522.6 140.6,528.4 149.8,523.5 159.7,523.5 164.7,522.3 173.0,525.4 182.1,527.6 189.6,526.4 197.8,529.6 216.1,529.6 226.0,530.9 237.6,533.7 245.1,536.4 252.6,532.2 265.8,532.2 275.8,534.2 284.1,535.1 294.0,539.7 302.6,535.9 309.3,531.4 318.4,522.1 325.0,519.3 330.8,520.5 340.0,518.2 350.7,518.2 357.4,521.5 364.8,523.5 373.1,517.3 382.2,517.3 388.9,520.5 397.2,521.5 404.6,522.3 415.4,516.8 423.7,512.3 428.7,511.4 435.3,512.3 441.9,511.4 461.8,511.4 468.5,509.4 475.1,510.5 484.2,508.2 490.0,508.5 494.5,510.2 501.1,518.2 510.2,513.2 516.9,515.2 526.0,521.5 532.6,518.2 538.4,519.3 550.0,519.3 557.5,516.0 565.8,509.4 573.3,509.4 581.6,517.3 586.5,516.3 593.2,516.3 599.8,517.7 605.6,519.3 613.1,516.3 622.2,516.3 629.6,520.5 637.9,519.3 645.4,522.3 654.5,521.5 664.5,527.6 671.1,530.9 677.4,533.4 685.2,530.9 688.0,528.8 694.6,522.3 702.1,518.2 707.9,519.3 716.2,517.2 726.1,522.3 732.8,521.5 741.1,517.3 750.2,516.3 757.7,513.2 764.3,514.8 772.6,518.5 780.0,516.3 785.8,516.3 791.6,517.3 797.5,516.3 804.9,512.3 810.7,513.2 824.8,513.2 829.0,514.3 837.3,513.2 844.1,509.4 853.3,509.4 861.6,517.3 869.5,511.5 877.8,515.2 885.6,510.5 893.9,510.5 902.2,508.2 908.8,505.5 916.6,504.1" fill="none" stroke="#1e90ff" stroke-width="1" stroke-linejoin="round" shape-rendering="crispEdges"/>
<text x="9.5" y="493" font-size="9.5" fill="#000" stroke="#000" stroke-width="0.25" textLength="67.5" lengthAdjust="spacingAndGlyphs" >RSI(14) 68.4294</text>
<rect x="1168" y="482" width="2" height="1" fill="#000"/>
<text x="1171.5" y="491" font-size="10" fill="#000" stroke="#000" stroke-width="0.25" textLength="14" lengthAdjust="spacingAndGlyphs" >100</text>
<text x="1170.8" y="506" font-size="10" fill="#000" stroke="#000" stroke-width="0.25" textLength="9.2" lengthAdjust="spacingAndGlyphs" >70</text>
<text x="1170.8" y="534" font-size="10" fill="#000" stroke="#000" stroke-width="0.25" textLength="9.2" lengthAdjust="spacingAndGlyphs" >30</text>
<text x="1171.5" y="549" font-size="10" fill="#000" stroke="#000" stroke-width="0.25" textLength="4.5" lengthAdjust="spacingAndGlyphs" >0</text>
<rect x="1168" y="551" width="2" height="1" fill="#000"/>
<rect x="5" y="553" width="1" height="3" fill="#000"/>
<text x="4.5" y="565" font-size="9.5" fill="#000" stroke="#000" stroke-width="0.25" >22 Oct 2021</text>
<rect x="69" y="553" width="1" height="3" fill="#000"/>
<text x="68.5" y="565" font-size="9.5" fill="#000" stroke="#000" stroke-width="0.25" >1 Nov 2021</text>
<rect x="133" y="553" width="1" height="3" fill="#000"/>
<text x="132.5" y="565" font-size="9.5" fill="#000" stroke="#000" stroke-width="0.25" >10 Nov 2021</text>
<rect x="197" y="553" width="1" height="3" fill="#000"/>
<text x="196.5" y="565" font-size="9.5" fill="#000" stroke="#000" stroke-width="0.25" >19 Nov 2021</text>
<rect x="261" y="553" width="1" height="3" fill="#000"/>
<text x="260.5" y="565" font-size="9.5" fill="#000" stroke="#000" stroke-width="0.25" >29 Nov 2021</text>
<rect x="325" y="553" width="1" height="3" fill="#000"/>
<text x="324.5" y="565" font-size="9.5" fill="#000" stroke="#000" stroke-width="0.25" >8 Dec 2021</text>
<rect x="389" y="553" width="1" height="3" fill="#000"/>
<text x="388.5" y="565" font-size="9.5" fill="#000" stroke="#000" stroke-width="0.25" >17 Dec 2021</text>
<rect x="453" y="553" width="1" height="3" fill="#000"/>
<text x="452.5" y="565" font-size="9.5" fill="#000" stroke="#000" stroke-width="0.25" >27 Dec 2021</text>
<rect x="517" y="553" width="1" height="3" fill="#000"/>
<text x="516.5" y="565" font-size="9.5" fill="#000" stroke="#000" stroke-width="0.25" >5 Jan 2022</text>
<rect x="581" y="553" width="1" height="3" fill="#000"/>
<text x="580.5" y="565" font-size="9.5" fill="#000" stroke="#000" stroke-width="0.25" >14 Jan 2022</text>
<rect x="645" y="553" width="1" height="3" fill="#000"/>
<text x="644.5" y="565" font-size="9.5" fill="#000" stroke="#000" stroke-width="0.25" >24 Jan 2022</text>
<rect x="709" y="553" width="1" height="3" fill="#000"/>
<text x="708.5" y="565" font-size="9.5" fill="#000" stroke="#000" stroke-width="0.25" >2 Feb 2022</text>
<rect x="773" y="553" width="1" height="3" fill="#000"/>
<text x="772.5" y="565" font-size="9.5" fill="#000" stroke="#000" stroke-width="0.25" >11 Feb 2022</text>
<rect x="837" y="553" width="1" height="3" fill="#000"/>
<text x="836.5" y="565" font-size="9.5" fill="#000" stroke="#000" stroke-width="0.25" >21 Feb 2022</text>
<rect x="901" y="553" width="1" height="3" fill="#000"/>
<text x="900.5" y="565" font-size="9.5" fill="#000" stroke="#000" stroke-width="0.25" >2 Mar 2022</text>
<rect x="0" y="573" width="1206" height="1" fill="#d8d8d8"/>
<rect x="0" y="574" width="1206" height="1" fill="#e8e8e8"/>
<rect x="0" y="575" width="1206" height="1" fill="#000"/>
<rect x="0" y="576" width="1206" height="18" fill="#f0f0f0"/>
<rect x="0" y="576" width="1" height="18" fill="#707070"/>
<rect x="0" y="594" width="1206" height="1" fill="#ffffff"/>
<rect x="0" y="595" width="1206" height="4" fill="#f0f0f0"/>
<rect x="0" y="599" width="1206" height="1" fill="#a0a0a0"/>
<rect x="0" y="600" width="1206" height="1" fill="#f8f8f8"/>
<rect x="214" y="575" width="108" height="19" fill="#000"/>
<rect x="215" y="575" width="106" height="18" fill="#ffffff"/>
<text x="17.5" y="590" font-size="12" fill="#6a6a6a" textLength="77.5" lengthAdjust="spacingAndGlyphs" >USDX,Weekly</text>
<rect x="106" y="578" width="1" height="14" fill="#404040"/>
<text x="117" y="590" font-size="12" fill="#6a6a6a" textLength="85" lengthAdjust="spacingAndGlyphs" >EURUSD-,Daily</text>
<text x="224.5" y="590" font-size="12" fill="#000" textLength="86" lengthAdjust="spacingAndGlyphs" >AUDUSD-,Daily</text>
<text x="334" y="590" font-size="12" fill="#6a6a6a" textLength="84" lengthAdjust="spacingAndGlyphs" >USDCHF-,Daily</text>
<rect x="430" y="578" width="1" height="14" fill="#404040"/>
<text x="441.5" y="590" font-size="12" fill="#6a6a6a" textLength="85.5" lengthAdjust="spacingAndGlyphs" >USDCAD-,Daily</text>
<rect x="538" y="578" width="1" height="14" fill="#404040"/>
<text x="550.5" y="590" font-size="12" fill="#6a6a6a" textLength="87" lengthAdjust="spacingAndGlyphs" >USDCNH-,Daily</text>
<rect x="650" y="578" width="1" height="14" fill="#404040"/>
<text x="661" y="590" font-size="12" fill="#6a6a6a" textLength="76" lengthAdjust="spacingAndGlyphs" >XAUUSD-,M5</text>
<rect x="750" y="578" width="1" height="14" fill="#404040"/>
<text x="761" y="590" font-size="12" fill="#6a6a6a" textLength="57" lengthAdjust="spacingAndGlyphs" >UKOil-,H4</text>
<rect x="830" y="578" width="1" height="14" fill="#404040"/>
<text x="842.5" y="590" font-size="12" fill="#6a6a6a" textLength="63.5" lengthAdjust="spacingAndGlyphs" >DJ30-,Daily</text>
<rect x="918" y="578" width="1" height="14" fill="#404040"/>
<text x="929.5" y="590" font-size="12" fill="#6a6a6a" textLength="61" lengthAdjust="spacingAndGlyphs" >UK100-,H1</text>
<rect x="1002" y="578" width="1" height="14" fill="#404040"/>
<text x="1014.5" y="590" font-size="12" fill="#6a6a6a" textLength="56" lengthAdjust="spacingAndGlyphs" >USOil-,H1</text>
<rect x="1082" y="578" width="1" height="14" fill="#404040"/>
<path d="M1182.8,584 L1186.2,580.8 L1186.2,587.2 Z" fill="#909090"/>
<path d="M1205.3,584 L1201.9,580.8 L1201.9,587.2 Z" fill="#909090"/></svg>
</body></html>
